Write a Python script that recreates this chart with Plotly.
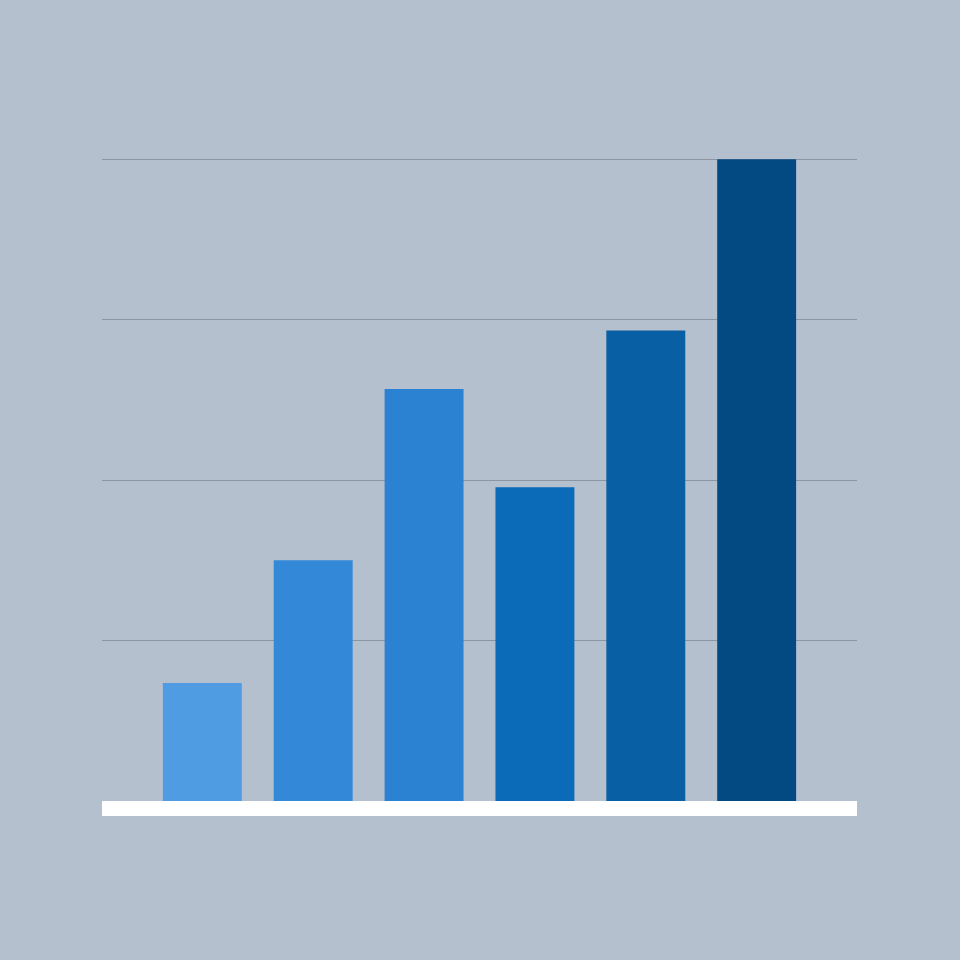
import plotly.graph_objects as go

# six bars, values read against gridlines at 25/50/75/100
categories = ["A", "B", "C", "D", "E", "F"]
values = [18.4, 37.5, 64.2, 48.9, 73.3, 100]
bar_colors = ["#4f9ce3", "#3389d8", "#2b82d3", "#0b6bb8", "#085fa4", "#044a82"]
grid_values = [25, 50, 75, 100]

fig = go.Figure(go.Bar(
    x=categories,
    y=values,
    marker=dict(color=bar_colors, line=dict(width=0)),
    hoverinfo="skip",
))

fig.update_layout(
    width=960, height=960,
    paper_bgcolor="#b5c0cf",
    plot_bgcolor="#b5c0cf",
    margin=dict(l=102, r=103, t=158, b=159),
    bargap=0.288,
    showlegend=False,
)
fig.update_xaxes(
    range=[-0.905, 5.905],
    showticklabels=False, ticks="",
    showgrid=False, zeroline=False,
    showline=True, linecolor="#ffffff", linewidth=15,
)
fig.update_yaxes(
    range=[0, 100.2],
    tickvals=grid_values,
    showticklabels=False, ticks="",
    showgrid=True, gridcolor="#8c96a3", gridwidth=1,
    zeroline=False, showline=False,
)

# drop the browser's default 8px body margin so the figure fills the window
fig.write_html(
    "out.html",
    config={"displayModeBar": False},
    post_script="document.body.style.margin='0';",
)
